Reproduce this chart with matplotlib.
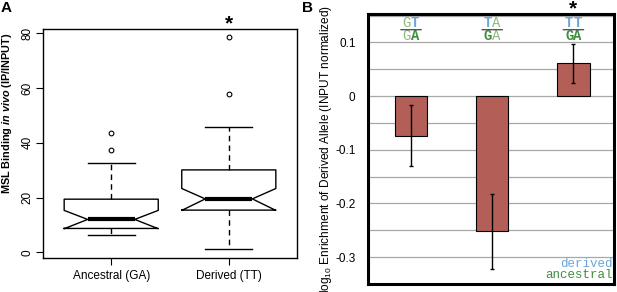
import matplotlib
matplotlib.use("Agg")
import matplotlib.pyplot as plt
import numpy as np

plt.rcParams['font.family'] = ['Liberation Sans', 'DejaVu Sans']
plt.rcParams['mathtext.fontset'] = 'custom'
plt.rcParams['mathtext.rm'] = 'Liberation Sans'
plt.rcParams['mathtext.it'] = 'Liberation Sans:italic'
plt.rcParams['mathtext.bf'] = 'Liberation Sans:bold'
try:
    plt.rcParams['mathtext.bfit'] = 'Liberation Sans:bold:italic'
except Exception:
    pass

# ---------------- Data: panel A (box plot statistics) ----------------
groups = ["Ancestral (GA)", "Derived (TT)"]
whislo = [6.3, 1.1]
q1 = [8.7, 15.4]
med = [12.0, 19.5]
q3 = [19.4, 30.1]
whishi = [32.6, 45.6]
cilo = [8.6, 15.3]
cihi = [15.3, 23.3]
fliers = [[37.2, 43.5], [57.7, 78.5]]

# ---------------- Data: panel B (bars) ----------------
comparisons = ["GT/GA", "TA/GA", "TT/GA"]
enrichment = [-0.074, -0.252, 0.061]
err = [0.057, 0.070, 0.036]
# letter colouring for the fraction labels: (char, color, bold)
LB = "#6aa6d8"   # derived blue
LG = "#8dbb7c"   # light green
DG = "#3f8f3f"   # dark green
numerators = [[("G", LG, False), ("T", LB, True)],
              [("T", LB, True), ("A", LG, False)],
              [("T", LB, True), ("T", LB, True)]]
denominators = [[("G", LG, False), ("A", DG, True)],
                [("G", DG, True), ("A", LG, False)],
                [("G", DG, True), ("A", DG, True)]]

fig = plt.figure(figsize=(6.17, 2.92), dpi=100)

# ================= Panel A =================
axA = fig.add_axes([43/617, 1-258/292, 254/617, 229/292])
stats = []
for i in range(2):
    stats.append(dict(med=med[i], q1=q1[i], q3=q3[i], whislo=whislo[i],
                      whishi=whishi[i], cilo=cilo[i], cihi=cihi[i],
                      fliers=fliers[i], label=groups[i]))
axA.bxp(stats, positions=[1, 2], widths=0.8, shownotches=True,
        boxprops=dict(color='black', lw=1.0),
        medianprops=dict(color='black', lw=3.0, solid_capstyle='butt'),
        whiskerprops=dict(color='black', lw=1.0, linestyle=(0, (4, 3))),
        capprops=dict(color='black', lw=1.0),
        flierprops=dict(marker='o', markersize=3.4, markerfacecolor='none',
                        markeredgecolor='black', markeredgewidth=0.8))
axA.set_xlim(0.42, 2.58)
axA.set_ylim(-2.1, 81.6)
axA.set_yticks([0, 20, 40, 60, 80])
axA.set_yticklabels(['0', '20', '40', '60', '80'], rotation=90, va='center', fontsize=8.5)
axA.set_xticks([1, 2])
axA.set_xticklabels(groups, fontsize=8.5)
axA.tick_params(axis='both', direction='out', length=5, width=0.8, colors='black')
axA.tick_params(axis='y', pad=2)
for s in axA.spines.values():
    s.set_linewidth(1.0)
axA.set_ylabel(r'$\mathbf{MSL\ Binding\ }\mathbfit{in\ vivo}\mathbf{\ (IP/INPUT)}$',
               fontsize=7.8)
axA.yaxis.set_label_coords(-0.114, 0.631)
axA.text(2, 1.0, '*', transform=axA.get_xaxis_transform(), ha='center', va='baseline',
         fontsize=15, fontweight='bold')
fig.text(1/617, 1-1/292, 'A', ha='left', va='top', fontsize=11, fontweight='bold')

# ================= Panel B =================
axB = fig.add_axes([368/617, 1-284/292, 246/617, 270/292])
xpos = np.arange(1, len(comparisons) + 1)
for yv in np.arange(-0.35, 0.151, 0.05):
    axB.axhline(yv, color='#a8a8a8', lw=0.9, zorder=0)
axB.bar(xpos, enrichment, width=0.4, color='#b35f58', edgecolor='black', lw=0.8, zorder=2)
axB.errorbar(xpos, enrichment, yerr=err, fmt='none', ecolor='black', elinewidth=1.0,
             capsize=1.2, capthick=1.0, zorder=3)
axB.set_xlim(0.47, 3.5)
axB.set_ylim(-0.35, 0.153)
axB.set_xticks([])
axB.set_yticks([0.1, 0, -0.1, -0.2, -0.3])
axB.set_yticklabels(['0.1', '0', '-0.1', '-0.2', '-0.3'], fontsize=8.5)
axB.tick_params(axis='y', length=0, pad=9)
for s in axB.spines.values():
    s.set_linewidth(2.2)
axB.set_ylabel(r'log$_{10}$ Enrichment of Derived Allele (INPUT normalized)', fontsize=8.6)
axB.yaxis.set_label_coords(-0.14, 0.5)

trB = axB.get_xaxis_transform()
cw = 0.6 * 10  # monospace char width in points
for i, x in enumerate(xpos):
    for row, yfrac in ((numerators[i], 0.9656), (denominators[i], 0.9185)):
        for j, (ch, col, bold) in enumerate(row):
            axB.annotate(ch, xy=(x, yfrac), xycoords=trB,
                         xytext=((j - 0.5) * cw, 0), textcoords='offset points',
                         ha='center', va='center', fontsize=10, color=col,
                         family='Liberation Mono', fontweight='bold' if bold else 'normal')
    axB.annotate('', xy=(x - 0.16, 0.9419), xycoords=trB,
                 xytext=(x + 0.16, 0.9419), textcoords=trB,
                 arrowprops=dict(arrowstyle='-', color='#555555', lw=1.0))
axB.text(3, 1.0, '*', transform=trB, ha='center', va='baseline', fontsize=15,
         fontweight='bold')
axB.text(0.995, 0.075, 'derived', transform=axB.transAxes, ha='right', va='center',
         fontsize=9, family='Liberation Mono', color=LB)
axB.text(0.995, 0.034, 'ancestral', transform=axB.transAxes, ha='right', va='center',
         fontsize=9, family='Liberation Mono', color=DG)
fig.text(302/617, 1-1/292, 'B', ha='left', va='top', fontsize=11, fontweight='bold')

fig.savefig('out.png', dpi=100)
